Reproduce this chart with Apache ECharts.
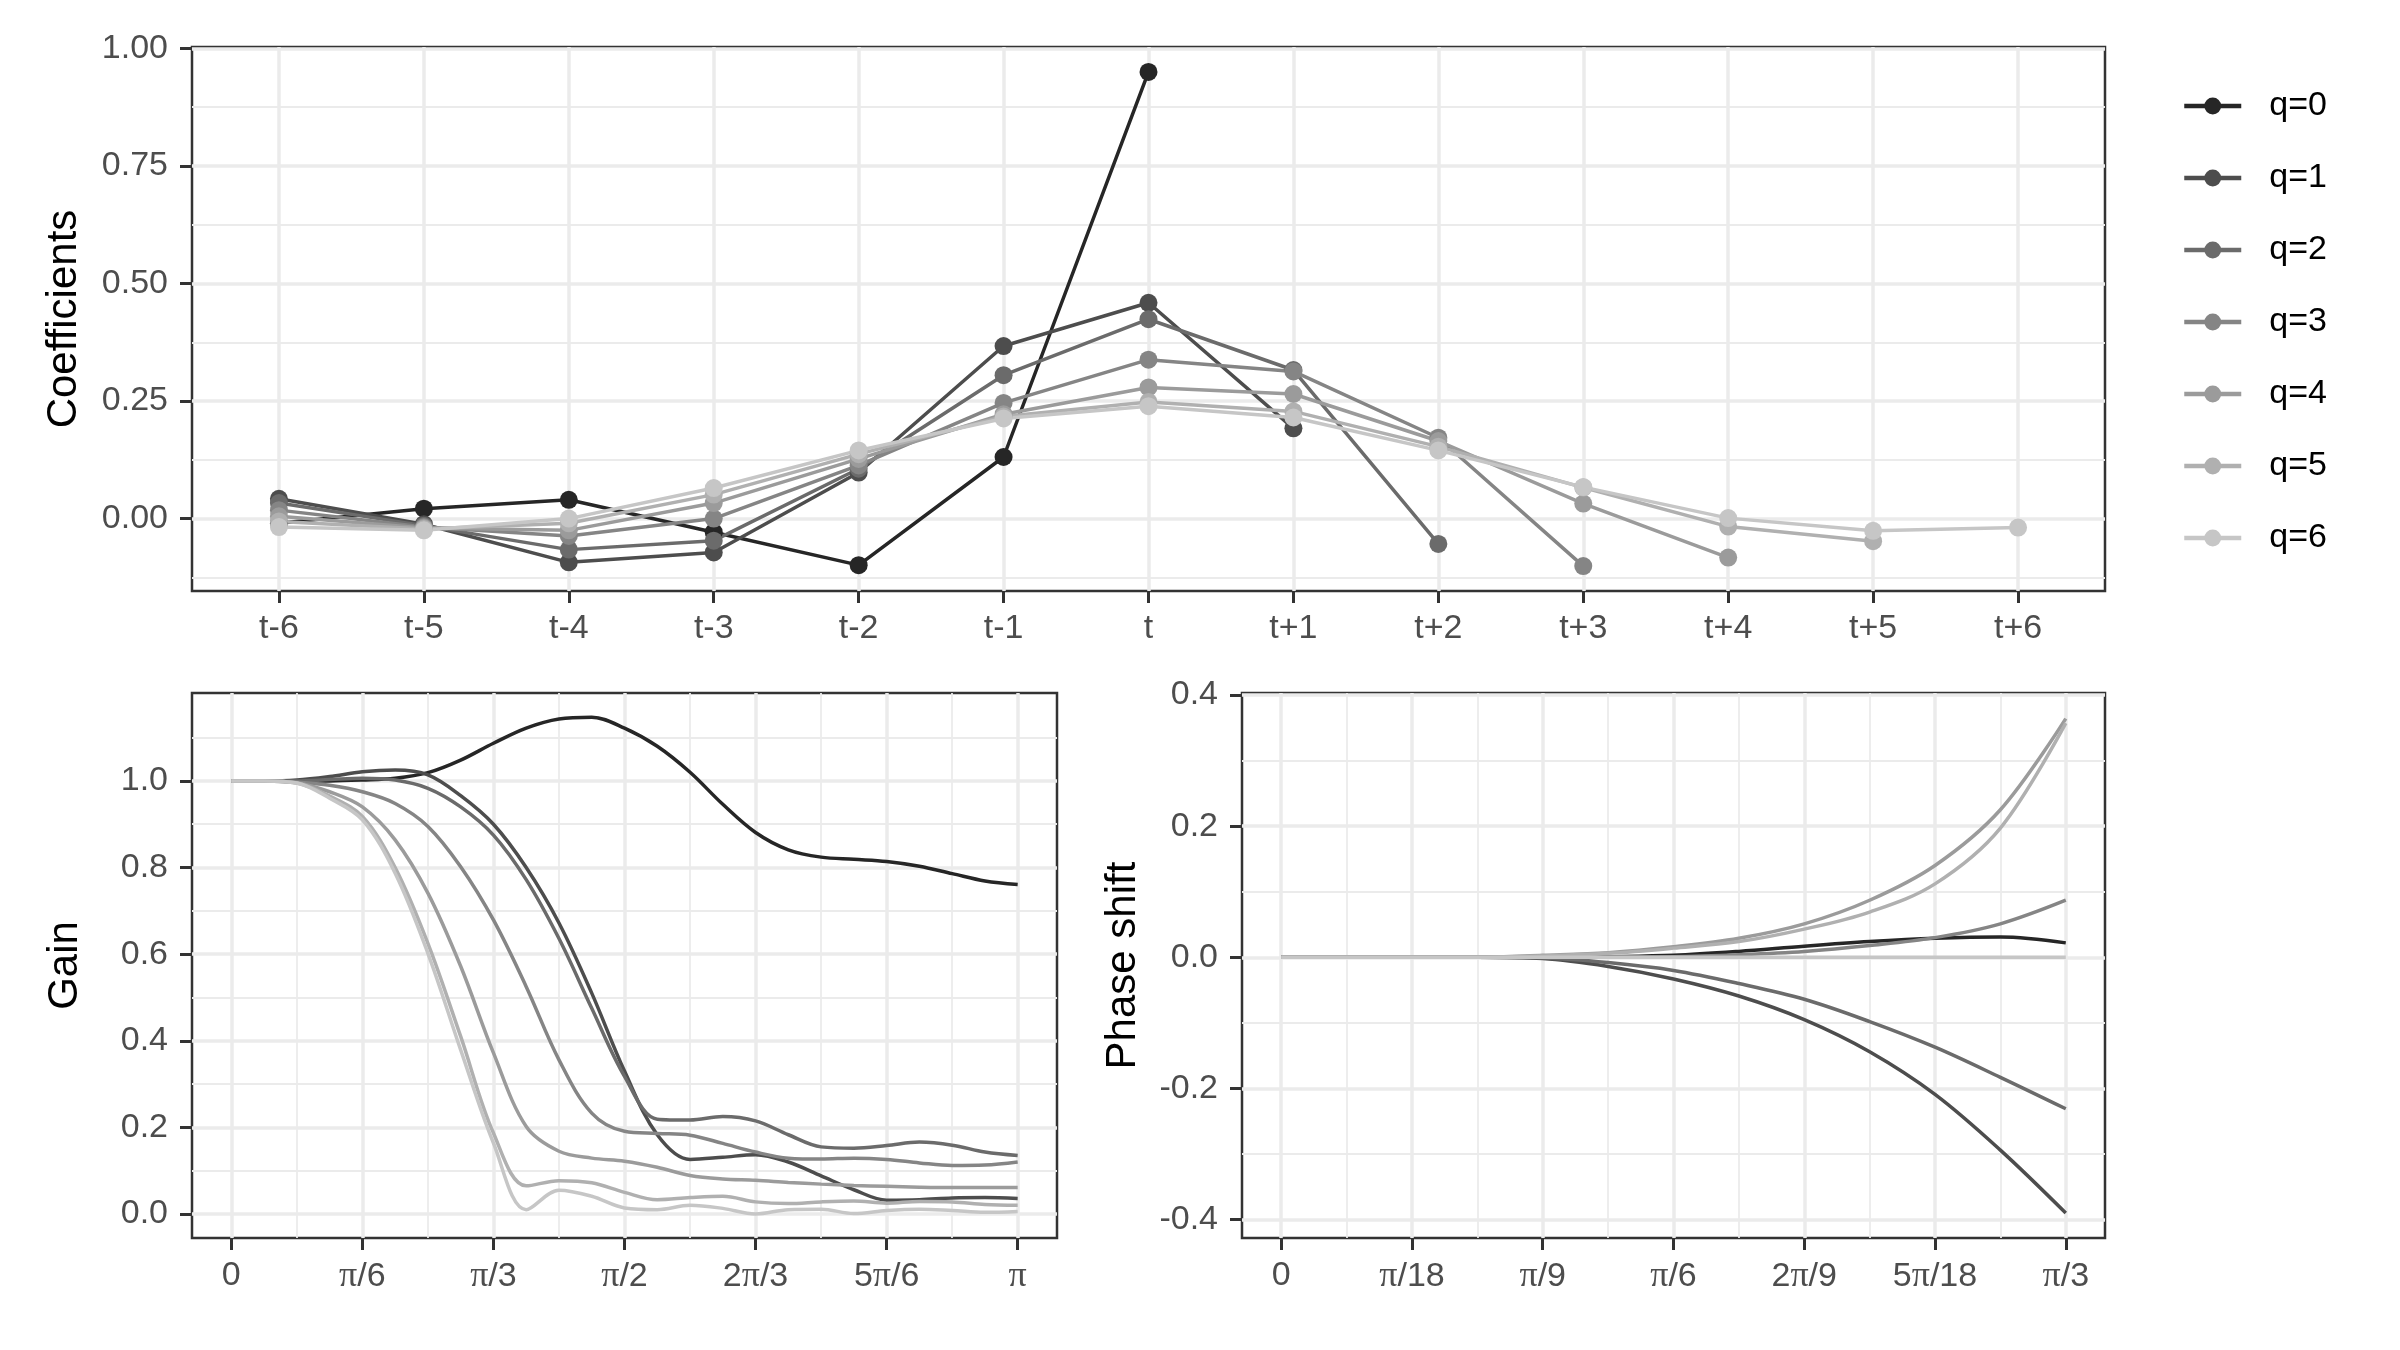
<!DOCTYPE html>
<html>
<head>
<meta charset="utf-8">
<title>Filter coefficients, gain and phase shift</title>
<script src="https://cdn.jsdelivr.net/npm/echarts@6/dist/echarts.min.js"></script>
<style>
  html, body { margin: 0; padding: 0; background: #fff; }
  #chart { width: 2400px; height: 1350px; }
</style>
</head>
<body>
<div id="chart"></div>
<script>
// Series names and their grey levels (q=0 darkest)
const seriesNames = ['q=0', 'q=1', 'q=2', 'q=3', 'q=4', 'q=5', 'q=6'];
const seriesColors = ['#262626', '#4d4d4d', '#6b6b6b', '#858585', '#9b9b9b', '#b0b0b0', '#c6c6c6'];

// Top panel: coefficients by lag, each series starts at t-6
const lagLabels = ['t-6', 't-5', 't-4', 't-3', 't-2', 't-1', 't', 't+1', 't+2', 't+3', 't+4', 't+5', 't+6'];
const coefQ0 = [-0.010, 0.021, 0.040, -0.029, -0.099, 0.131, 0.950];
const coefQ1 = [0.042, -0.012, -0.093, -0.072, 0.098, 0.367, 0.459, 0.192];
const coefQ2 = [0.033, -0.015, -0.066, -0.047, 0.106, 0.305, 0.424, 0.316, -0.054];
const coefQ3 = [0.018, -0.018, -0.037, 0.000, 0.113, 0.246, 0.338, 0.313, 0.172, -0.101];
const coefQ4 = [0.005, -0.020, -0.025, 0.033, 0.127, 0.222, 0.279, 0.265, 0.165, 0.032, -0.083];
const coefQ5 = [-0.006, -0.022, -0.010, 0.051, 0.137, 0.217, 0.248, 0.228, 0.153, 0.066, -0.017, -0.048];
const coefQ6 = [-0.018, -0.025, 0.000, 0.065, 0.145, 0.213, 0.239, 0.215, 0.145, 0.067, 0.001, -0.026, -0.019];
const coefTicks = [0, 0.25, 0.5, 0.75, 1];
const coefTickLabels = ['0.00', '0.25', '0.50', '0.75', '1.00'];
const coefMinorTicks = [-0.125, 0.125, 0.375, 0.625, 0.875];

// Bottom left: gain, frequencies given in multiples of pi/24
const gainSteps = [0, 1, 2, 3, 4, 5, 6, 7, 8, 9, 10, 11, 12, 13, 14, 15, 16, 17, 18, 19, 20, 21, 22, 23, 24];
const gainQ0 = [1, 1, 1, 1, 1.002, 1.006, 1.019, 1.048, 1.087, 1.122, 1.143, 1.147, 1.122, 1.080, 1.020, 0.946, 0.881, 0.841, 0.824, 0.819, 0.814, 0.803, 0.786, 0.769, 0.761];
const gainQ1 = [1, 1, 1.002, 1.010, 1.021, 1.025, 1.014, 0.966, 0.900, 0.800, 0.672, 0.510, 0.330, 0.183, 0.126, 0.131, 0.137, 0.120, 0.088, 0.056, 0.032, 0.033, 0.037, 0.038, 0.036];
const gainQ2 = [1, 1, 1, 1.003, 1.006, 1.002, 0.983, 0.940, 0.875, 0.772, 0.636, 0.475, 0.318, 0.219, 0.217, 0.225, 0.215, 0.183, 0.155, 0.152, 0.158, 0.166, 0.159, 0.143, 0.135];
const gainQ3 = [1, 1, 0.997, 0.990, 0.975, 0.948, 0.895, 0.802, 0.679, 0.525, 0.356, 0.233, 0.191, 0.186, 0.182, 0.163, 0.143, 0.129, 0.127, 0.129, 0.126, 0.118, 0.112, 0.113, 0.120];
const gainQ4 = [1, 1, 0.996, 0.975, 0.940, 0.864, 0.741, 0.572, 0.372, 0.202, 0.145, 0.129, 0.122, 0.108, 0.089, 0.081, 0.078, 0.073, 0.069, 0.066, 0.064, 0.062, 0.061, 0.061, 0.061];
const gainQ5 = [1, 1, 0.995, 0.965, 0.918, 0.800, 0.625, 0.410, 0.187, 0.065, 0.077, 0.072, 0.050, 0.033, 0.038, 0.041, 0.028, 0.024, 0.028, 0.030, 0.025, 0.029, 0.028, 0.022, 0.020];
const gainQ6 = [1, 1, 0.995, 0.960, 0.910, 0.787, 0.602, 0.379, 0.164, 0.010, 0.055, 0.041, 0.014, 0.010, 0.020, 0.013, 0.000, 0.010, 0.011, 0.001, 0.008, 0.011, 0.008, 0.004, 0.006];
const gainTickLabels = ['0', 'π/6', 'π/3', 'π/2', '2π/3', '5π/6', 'π'];
const gainTicks = [0, 1, 2, 3, 4, 5, 6].map(k => k * Math.PI / 6);
const gainMinorTicks = [1, 3, 5, 7, 9, 11].map(k => k * Math.PI / 12);
const gainYTicks = [0, 0.2, 0.4, 0.6, 0.8, 1];
const gainYLabels = ['0.0', '0.2', '0.4', '0.6', '0.8', '1.0'];
const gainYMinor = [0.1, 0.3, 0.5, 0.7, 0.9, 1.1];

// Bottom right: phase shift, frequencies given in multiples of pi/36
const phaseSteps = [0, 1, 2, 3, 4, 5, 6, 7, 8, 9, 10, 11, 12];
const phaseQ0 = [0, 0, 0, 0, 0, 0.001, 0.003, 0.009, 0.017, 0.024, 0.029, 0.031, 0.022];
const phaseQ1 = [0, 0, 0, 0, -0.002, -0.014, -0.033, -0.059, -0.095, -0.144, -0.209, -0.294, -0.390];
const phaseQ2 = [0, 0, 0, 0, -0.001, -0.008, -0.020, -0.040, -0.064, -0.098, -0.137, -0.183, -0.231];
const phaseQ3 = [0, 0, 0, 0, 0, 0.0005, 0.001, 0.004, 0.009, 0.018, 0.030, 0.051, 0.087];
const phaseQ4 = [0, 0, 0, 0, 0.003, 0.007, 0.016, 0.029, 0.051, 0.087, 0.140, 0.225, 0.364];
const phaseQ5 = [0, 0, 0, 0, 0.002, 0.006, 0.014, 0.024, 0.043, 0.069, 0.112, 0.197, 0.357];
const phaseQ6 = [0, 0, 0, 0, 0, 0, 0, 0, 0, 0, 0, 0, 0];
const phaseTickLabels = ['0', 'π/18', 'π/9', 'π/6', '2π/9', '5π/18', 'π/3'];
const phaseTicks = [0, 1, 2, 3, 4, 5, 6].map(k => k * Math.PI / 18);
const phaseMinorTicks = [1, 3, 5, 7, 9, 11].map(k => k * Math.PI / 36);
const phaseYTicks = [-0.4, -0.2, 0, 0.2, 0.4];
const phaseYLabels = ['-0.4', '-0.2', '0.0', '0.2', '0.4'];
const phaseYMinor = [-0.3, -0.1, 0.1, 0.3];

const coefSeries = [coefQ0, coefQ1, coefQ2, coefQ3, coefQ4, coefQ5, coefQ6];
const gainSeries = [gainQ0, gainQ1, gainQ2, gainQ3, gainQ4, gainQ5, gainQ6];
const phaseSeries = [phaseQ0, phaseQ1, phaseQ2, phaseQ3, phaseQ4, phaseQ5, phaseQ6];

const FONT = '"Liberation Sans", Arial, Helvetica, sans-serif';
const GRID_LINE = '#ebebeb';
const TEXT_GREY = '#4d4d4d';

function nearestLabel(ticks, labels, v) {
  let best = 0;
  ticks.forEach((t, i) => {
    if (Math.abs(t - v) < Math.abs(ticks[best] - v)) best = i;
  });
  // pi is drawn in a serif face, like the plotmath symbol
  return labels[best].replace('π', '{p|π}');
}

// Axis with ticks, labels and major grid lines
function majorAxis(gridIndex, min, max, ticks, labels, extra) {
  return Object.assign({
    type: 'value',
    gridIndex: gridIndex,
    min: min,
    max: max,
    axisLine: { show: false, onZero: false },
    axisTick: {
      show: true,
      length: 12,
      customValues: ticks,
      lineStyle: { color: '#333333', width: 3 },
    },
    axisLabel: {
      customValues: ticks,
      formatter: v => nearestLabel(ticks, labels, v),
      color: TEXT_GREY,
      fontSize: 34,
      fontFamily: FONT,
      margin: 21,
      rich: {
        p: { fontFamily: '"Liberation Serif", "DejaVu Serif", serif', fontSize: 36, color: TEXT_GREY },
      },
    },
    splitLine: { show: true, lineStyle: { color: GRID_LINE, width: 3.5 } },
  }, extra || {});
}

// Invisible axis used only for the thinner minor grid lines
function minorAxis(gridIndex, min, max, ticks, position) {
  return {
    type: 'value',
    gridIndex: gridIndex,
    min: min,
    max: max,
    position: position,
    axisLine: { show: false, onZero: false },
    axisTick: { show: false, customValues: ticks },
    axisLabel: { show: false },
    splitLine: { show: true, lineStyle: { color: GRID_LINE, width: 1.8 } },
  };
}

function yName(name, gap) {
  return {
    position: 'left',
    name: name,
    nameLocation: 'middle',
    nameRotate: 90,
    nameGap: gap,
    nameTextStyle: { fontSize: 42, color: '#000', fontFamily: FONT },
  };
}

const lagTicks = lagLabels.map((_, i) => i - 6);
const PI = Math.PI;
const gridBox = { show: true, borderColor: '#333333', borderWidth: 2.5, backgroundColor: 'transparent' };

const xAxes = [
  majorAxis(0, -6.6, 6.6, lagTicks, lagLabels),
  majorAxis(1, -0.05 * PI, 1.05 * PI, gainTicks, gainTickLabels),
  minorAxis(1, -0.05 * PI, 1.05 * PI, gainMinorTicks, 'bottom'),
  majorAxis(2, -0.05 * PI / 3, 1.05 * PI / 3, phaseTicks, phaseTickLabels),
  minorAxis(2, -0.05 * PI / 3, 1.05 * PI / 3, phaseMinorTicks, 'bottom'),
];

const yAxes = [
  majorAxis(0, -0.154, 1.003, coefTicks, coefTickLabels, yName('Coefficients', 107)),
  minorAxis(0, -0.154, 1.003, coefMinorTicks, 'left'),
  majorAxis(1, -0.0554, 1.203, gainYTicks, gainYLabels, yName('Gain', 106)),
  minorAxis(1, -0.0554, 1.203, gainYMinor, 'left'),
  majorAxis(2, -0.428, 0.403, phaseYTicks, phaseYLabels, yName('Phase shift', 98)),
  minorAxis(2, -0.428, 0.403, phaseYMinor, 'left'),
];
yAxes.forEach(a => { if (a.axisLabel.margin) a.axisLabel.margin = 24; });

const series = [];
seriesNames.forEach((name, i) => {
  series.push({
    name: name,
    type: 'line',
    xAxisIndex: 0,
    yAxisIndex: 0,
    data: coefSeries[i].map((v, j) => [lagTicks[j], v]),
    symbol: 'circle',
    symbolSize: 18,
    showSymbol: true,
    lineStyle: { color: seriesColors[i], width: 3.5 },
    itemStyle: { color: seriesColors[i] },
    z: 3,
  });
});
seriesNames.forEach((name, i) => {
  series.push({
    name: name,
    type: 'line',
    xAxisIndex: 1,
    yAxisIndex: 2,
    data: gainSeries[i].map((v, j) => [gainSteps[j] * PI / 24, v]),
    showSymbol: false,
    smooth: 0.35,
    lineStyle: { color: seriesColors[i], width: 3.5 },
    itemStyle: { color: seriesColors[i] },
    z: 3,
  });
});
seriesNames.forEach((name, i) => {
  series.push({
    name: name,
    type: 'line',
    xAxisIndex: 3,
    yAxisIndex: 4,
    data: phaseSeries[i].map((v, j) => [phaseSteps[j] * PI / 36, v]),
    showSymbol: false,
    smooth: 0.35,
    lineStyle: { color: seriesColors[i], width: 3.5 },
    itemStyle: { color: seriesColors[i] },
    z: 3,
  });
});

const chart = echarts.init(document.getElementById('chart'));
chart.setOption({
  animation: false,
  backgroundColor: '#ffffff',
  grid: [
    Object.assign({ left: 192, top: 47, width: 1913, height: 544 }, gridBox),
    Object.assign({ left: 192, top: 693, width: 865, height: 545 }, gridBox),
    Object.assign({ left: 1242, top: 693, width: 863, height: 545 }, gridBox),
  ],
  xAxis: xAxes,
  yAxis: yAxes,
  legend: {
    data: seriesNames,
    orient: 'vertical',
    left: 2182,
    top: 89,
    padding: 0,
    itemWidth: 57,
    itemHeight: 21,
    itemGap: 38,
    selectedMode: false,
    lineStyle: { width: 4.5 },
    textStyle: { fontSize: 34, lineHeight: 34, color: '#000', fontFamily: FONT, padding: [0, 0, 0, 23] },
  },
  series: series,
});
</script>
</body>
</html>
